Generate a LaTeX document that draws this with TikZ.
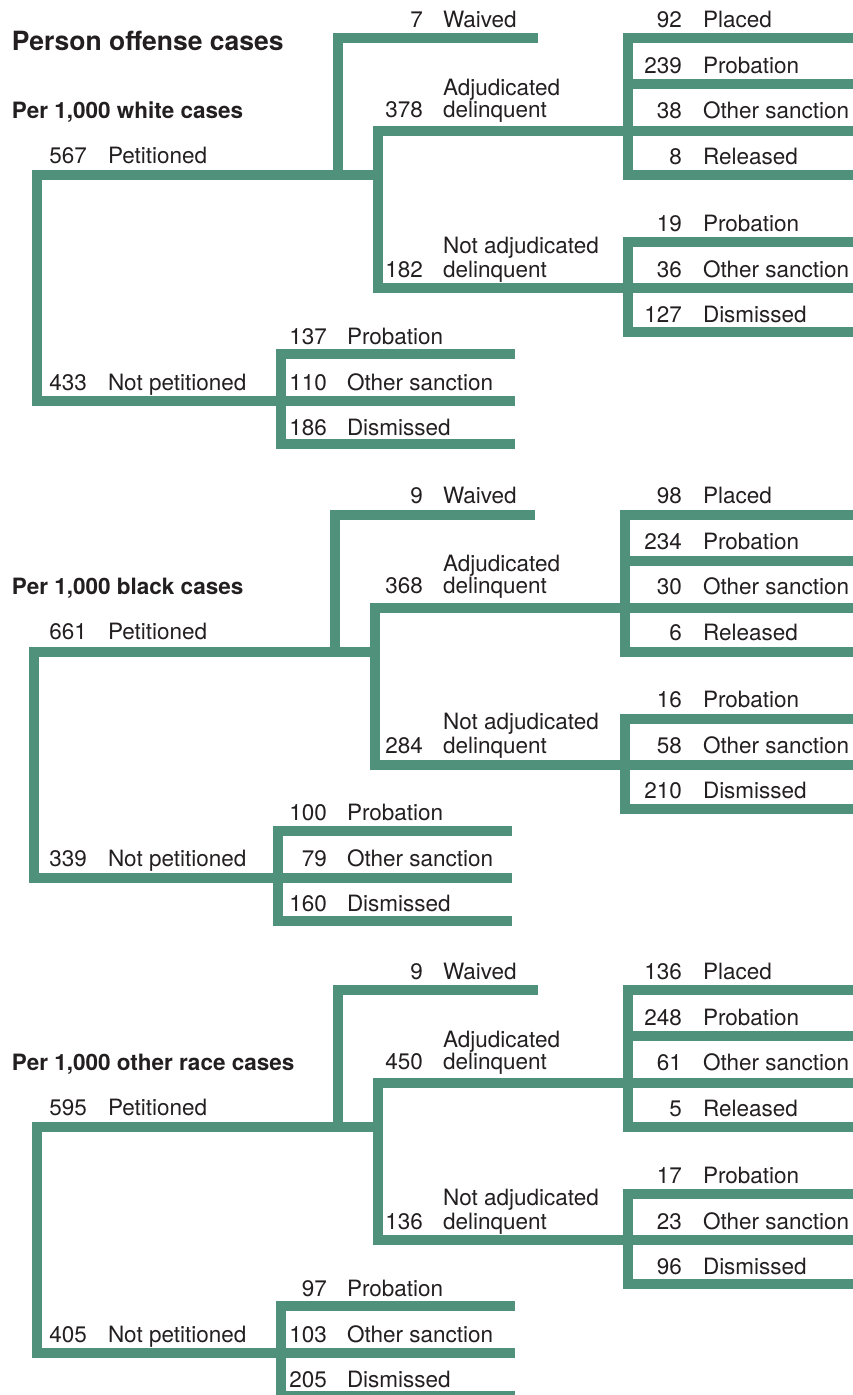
\documentclass[tikz,border=0pt]{standalone}
\usepackage{fontspec}
\setmainfont{TeX Gyre Heros}
\definecolor{brgreen}{HTML}{4F917A}
\definecolor{ink}{HTML}{231F20}
\tikzset{
  br/.style={draw=brgreen, line width=10pt, line join=miter, line cap=butt},
  txt/.style={inner sep=0pt, outer sep=0pt, text=ink, font=\fontsize{22.5}{22}\selectfont},
  numtxt/.style={txt, anchor=base east},
  labtxt/.style={txt, anchor=base west},
  headtxt/.style={inner sep=0pt, outer sep=0pt, text=ink, anchor=base west, font=\fontsize{22.5}{22}\selectfont\bfseries},
  titletxt/.style={inner sep=0pt, outer sep=0pt, text=ink, anchor=base west, font=\fontsize{26.5}{28}\selectfont\bfseries}
}
% number/label pair: name, x of number (right), x of label (left), baseline y, number, label
\newcommand\pr[6]{%
  \node[numtxt] (#1-n) at (#2,#4) {#5};
  \node[labtxt] (#1-l) at (#3,#4) {#6};}
% lines of one tree
\newcommand\drawtree[1]{%
  \coordinate (#1-tl) at (37,175);
  \coordinate (#1-bl) at (37,401);
  \coordinate (#1-pj) at (378,175);
  \coordinate (#1-npe) at (515,401);
  \coordinate (#1-wb) at (338,175);
  \coordinate (#1-wc) at (338,38);
  \coordinate (#1-we) at (538,38);
  \coordinate (#1-ac) at (378,131);
  \coordinate (#1-ae) at (856,131);
  \coordinate (#1-nc) at (378,288);
  \coordinate (#1-ne) at (856,288);
  \coordinate (#1-r1e) at (856,38);
  \coordinate (#1-r1c) at (628,38);
  \coordinate (#1-r4c) at (628,175);
  \coordinate (#1-r4e) at (856,175);
  \coordinate (#1-r2c) at (628,84);
  \coordinate (#1-r2e) at (856,84);
  \coordinate (#1-q1e) at (856,242);
  \coordinate (#1-q1c) at (628,242);
  \coordinate (#1-q3c) at (628,332);
  \coordinate (#1-q3e) at (856,332);
  \coordinate (#1-p1e) at (515,354);
  \coordinate (#1-p1c) at (281,354);
  \coordinate (#1-p3c) at (281,444);
  \coordinate (#1-p3e) at (515,444);
  \draw[br] (#1-pj) -- (#1-tl) -- (#1-bl) -- (#1-npe);
  \draw[br] (#1-wb) -- (#1-wc) -- (#1-we);
  \draw[br] (#1-ae) -- (#1-ac) -- (#1-nc) -- (#1-ne);
  \draw[br] (#1-r1e) -- (#1-r1c) -- (#1-r4c) -- (#1-r4e);
  \draw[br] (#1-r2c) -- (#1-r2e);
  \draw[br] (#1-q1e) -- (#1-q1c) -- (#1-q3c) -- (#1-q3e);
  \draw[br] (#1-p1e) -- (#1-p1c) -- (#1-p3c) -- (#1-p3e);
}
% left part texts: prefix, heading, waived, adj, petitioned, not adj, not petitioned
\newcommand\secA[7]{%
  \node[headtxt] (#1-head) at (12,118) {#2};
  \pr{#1-w}{423}{443}{27}{#3}{Waived}
  \node[labtxt] (#1-adjtop) at (443,95) {Adjudicated};
  \pr{#1-adj}{423}{443}{117}{#4}{delinquent}
  \pr{#1-pet}{87}{108}{163}{#5}{Petitioned}
  \node[labtxt] (#1-nadjtop) at (443,253) {Not adjudicated};
  \pr{#1-nadj}{423}{443}{277}{#6}{delinquent}
  \pr{#1-np}{87}{108}{390}{#7}{Not petitioned}}
% right column: prefix, placed, probation, other, released, n-probation, n-other, n-dismissed
\newcommand\secB[8]{%
  \pr{#1-pl}{682}{703}{27}{#2}{Placed}
  \pr{#1-pr}{682}{703}{73}{#3}{Probation}
  \pr{#1-os}{682}{703}{118}{#4}{Other sanction}
  \pr{#1-re}{682}{703}{164}{#5}{Released}
  \pr{#1-npr}{682}{703}{231}{#6}{Probation}
  \pr{#1-nos}{682}{703}{277}{#7}{Other sanction}
  \pr{#1-ndi}{682}{703}{322}{#8}{Dismissed}}
% not petitioned column: prefix, probation, other, dismissed
\newcommand\secC[4]{%
  \pr{#1-ppr}{327}{347}{344}{#2}{Probation}
  \pr{#1-pos}{327}{347}{390}{#3}{Other sanction}
  \pr{#1-pdi}{327}{347}{435}{#4}{Dismissed}}
\begin{document}
\begin{tikzpicture}[x=1pt,y=-1pt]
\useasboundingbox (0,0) rectangle (853,1395);
\node[titletxt] (title) at (12,50) {Person offense cases};
% section 1
\drawtree{t1}
\secA{s1}{Per 1,000 white cases}{7}{378}{567}{182}{433}
\secB{s1}{92}{239}{38}{8}{19}{36}{127}
\secC{s1}{137}{110}{186}
% section 2
\begin{scope}[shift={(-3,477)}]
\drawtree{t2}
\end{scope}
\begin{scope}[shift={(0,476)}]
\secA{s2}{Per 1,000 black cases}{9}{368}{661}{284}{339}
\secB{s2}{98}{234}{30}{6}{16}{58}{210}
\secC{s2}{100}{79}{160}
\end{scope}
% section 3
\begin{scope}[shift={(0,952)}]
\drawtree{t3}
\secA{s3}{Per 1,000 other race cases}{9}{450}{595}{136}{405}
\secB{s3}{136}{248}{61}{5}{17}{23}{96}
\secC{s3}{97}{103}{205}
\end{scope}
\end{tikzpicture}
\end{document}
